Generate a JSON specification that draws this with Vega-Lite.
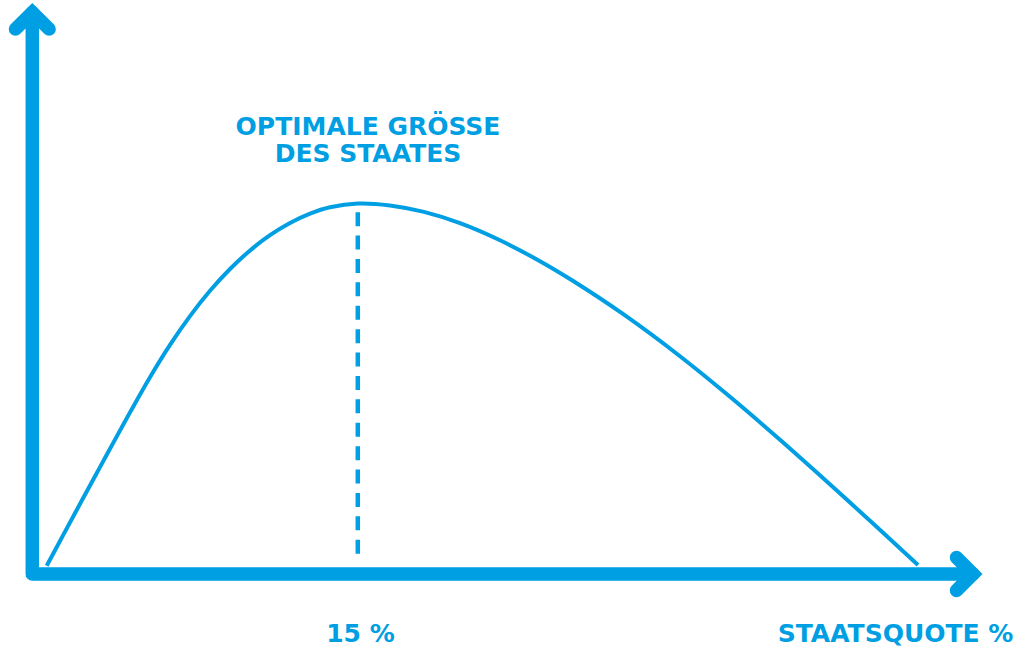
{
  "$schema": "https://vega.github.io/schema/vega-lite/v6.json",
  "width": 1017,
  "height": 648,
  "autosize": {"type": "none"},
  "padding": 0,
  "background": "white",
  "config": {"view": {"stroke": null}},
  "datasets": {
    "axes": [
      {"shape": "frame", "order": 1, "x": 0, "y": 151.76},
      {"shape": "frame", "order": 2, "x": 0, "y": 0},
      {"shape": "frame", "order": 3, "x": 43.35, "y": 0}
    ],
    "heads": [
      {"shape": "top", "order": 1, "x": -0.774, "y": 147.3},
      {"shape": "top", "order": 2, "x": 0, "y": 151.76},
      {"shape": "top", "order": 3, "x": 0.774, "y": 147.3},
      {"shape": "right", "order": 1, "x": 42.59, "y": 4.46},
      {"shape": "right", "order": 2, "x": 43.35, "y": 0},
      {"shape": "right", "order": 3, "x": 42.59, "y": -4.46}
    ],
    "curve": [
      {"x": 0.664, "y": 2.24},
      {"x": 1.415, "y": 10.43},
      {"x": 2.276, "y": 19.78},
      {"x": 3.120, "y": 28.89},
      {"x": 3.963, "y": 37.95},
      {"x": 4.502, "y": 43.68},
      {"x": 5.424, "y": 53.19},
      {"x": 6.346, "y": 61.92},
      {"x": 7.267, "y": 69.70},
      {"x": 8.189, "y": 76.54},
      {"x": 9.111, "y": 82.43},
      {"x": 10.032, "y": 87.43},
      {"x": 10.954, "y": 91.57},
      {"x": 11.876, "y": 94.86},
      {"x": 12.797, "y": 97.41},
      {"x": 13.719, "y": 99.14},
      {"x": 15.009, "y": 100.14},
      {"x": 16.484, "y": 99.62},
      {"x": 18.051, "y": 97.86},
      {"x": 19.710, "y": 94.81},
      {"x": 21.553, "y": 90.19},
      {"x": 23.396, "y": 84.54},
      {"x": 24.871, "y": 79.38},
      {"x": 27.267, "y": 70.08},
      {"x": 29.848, "y": 58.86},
      {"x": 32.152, "y": 47.89},
      {"x": 34.456, "y": 36.27},
      {"x": 37.682, "y": 19.32},
      {"x": 40.816, "y": 2.43}
    ],
    "optimum": [{"x": 15.0, "y": 97.8, "y2": 4.95}],
    "centerLabels": [
      {"label": "OPTIMALE GRÖSSE", "x": 15.47, "y": 118.65},
      {"label": "DES STAATES", "x": 15.47, "y": 111.27},
      {"label": "15 %", "x": 15.12, "y": -18.4}
    ],
    "rightLabels": [
      {"label": "STAATSQUOTE %", "x": 45.21, "y": -18.4}
    ]
  },
  "encoding": {
    "x": {"field": "x", "type": "quantitative", "axis": null,
          "scale": {"domain": [-1.4885, 45.378], "zero": false, "nice": false}},
    "y": {"field": "y", "type": "quantitative", "axis": null,
          "scale": {"domain": [-20, 155.135], "zero": false, "nice": false}}
  },
  "layer": [
    {
      "data": {"name": "axes"},
      "mark": {"type": "line", "color": "#009fe3", "strokeWidth": 13.5, "strokeCap": "round", "strokeJoin": "round", "clip": false},
      "encoding": {"detail": {"field": "shape"}, "order": {"field": "order", "type": "quantitative"}}
    },
    {
      "data": {"name": "heads"},
      "mark": {"type": "line", "color": "#009fe3", "strokeWidth": 13.5, "strokeCap": "round", "strokeJoin": "miter", "clip": false},
      "encoding": {"detail": {"field": "shape"}, "order": {"field": "order", "type": "quantitative"}}
    },
    {
      "data": {"name": "curve"},
      "mark": {"type": "line", "color": "#009fe3", "strokeWidth": 4, "interpolate": "catmull-rom", "strokeCap": "butt"},
      "encoding": {"order": {"field": "x", "type": "quantitative"}}
    },
    {
      "data": {"name": "optimum"},
      "mark": {"type": "rule", "color": "#009fe3", "strokeWidth": 4.5, "strokeDash": [14, 9.4]},
      "encoding": {"y2": {"field": "y2"}}
    },
    {
      "data": {"name": "centerLabels"},
      "mark": {"type": "text", "color": "#009fe3", "font": "DejaVu Sans", "fontWeight": "bold", "fontSize": 25, "align": "center", "baseline": "alphabetic"},
      "encoding": {"text": {"field": "label"}}
    },
    {
      "data": {"name": "rightLabels"},
      "mark": {"type": "text", "color": "#009fe3", "font": "DejaVu Sans", "fontWeight": "bold", "fontSize": 25, "align": "right", "baseline": "alphabetic"},
      "encoding": {"text": {"field": "label"}}
    }
  ]
}
